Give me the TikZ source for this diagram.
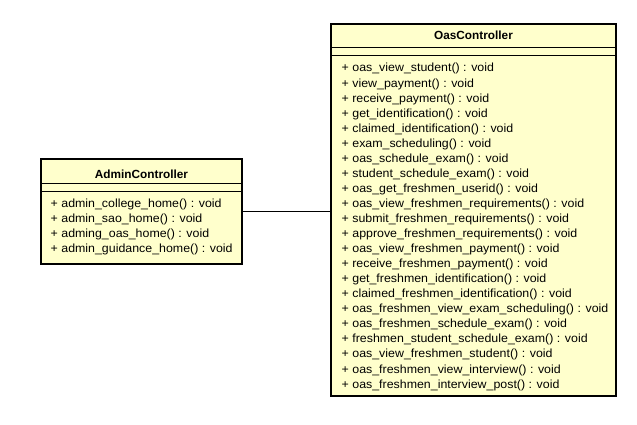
\documentclass[tikz,border=0pt]{standalone}
\usepackage{fontspec}
\setmainfont{Liberation Sans}
\newfontfamily\memberfont[FakeStretch=1.05]{Liberation Sans}
\definecolor{umlfill}{HTML}{FFFFCC}
\tikzset{
  classbox/.style={draw=black, line width=2pt, fill=umlfill, inner sep=0pt, outer sep=0pt, anchor=north west},
  sepline/.style={draw=black, line width=1pt},
  classtitle/.style={font=\fontsize{11.8}{14}\selectfont\bfseries, inner sep=0pt, anchor=base},
  member/.style={font=\memberfont\fontsize{11.8}{14}\selectfont, anchor=base west, inner sep=0pt},
  assoc/.style={draw=black, line width=1pt},
}
\begin{document}
\begin{tikzpicture}[x=1pt,y=-1pt]
\useasboundingbox (0,0) rectangle (637,425);
% AdminController
\node[classbox, minimum width=201pt, minimum height=105pt] (admin) at (41,159) {};
\draw[sepline] (admin.west |- 0,183) -- (admin.east |- 0,183);
\draw[sepline] (admin.west |- 0,191) -- (admin.east |- 0,191);
\node[classtitle] (admintitle) at (141.5,178) {AdminController};
\foreach \t [count=\i from 0] in {%
  + admin\_college\_home() : void,
  + admin\_sao\_home() : void,
  + adming\_oas\_home() : void,
  + admin\_guidance\_home() : void}
  \node[member] (am\i) at (50.5,207+15*\i) {\t};
% OasController
\node[classbox, minimum width=285pt, minimum height=372pt] (oas) at (331,24) {};
\draw[sepline] (oas.west |- 0,47.5) -- (oas.east |- 0,47.5);
\draw[sepline] (oas.west |- 0,55.5) -- (oas.east |- 0,55.5);
\node[classtitle] (oastitle) at (473.5,40) {OasController};
\foreach \t [count=\i from 0] in {%
  + oas\_view\_student() : void,
  + view\_payment() : void,
  + receive\_payment() : void,
  + get\_identification() : void,
  + claimed\_identification() : void,
  + exam\_scheduling() : void,
  + oas\_schedule\_exam() : void,
  + student\_schedule\_exam() : void,
  + oas\_get\_freshmen\_userid() : void,
  + oas\_view\_freshmen\_requirements() : void,
  + submit\_freshmen\_requirements() : void,
  + approve\_freshmen\_requirements() : void,
  + oas\_view\_freshmen\_payment() : void,
  + receive\_freshmen\_payment() : void,
  + get\_freshmen\_identification() : void,
  + claimed\_freshmen\_identification() : void,
  + oas\_freshmen\_view\_exam\_scheduling() : void,
  + oas\_freshmen\_schedule\_exam() : void,
  + freshmen\_student\_schedule\_exam() : void,
  + oas\_view\_freshmen\_student() : void,
  + oas\_freshmen\_view\_interview() : void,
  + oas\_freshmen\_interview\_post() : void}
  \node[member] (om\i) at (341.5,72+15.05*\i) {\t};
% association
\draw[assoc] (admin.east) -- (admin.east -| oas.west);
\end{tikzpicture}
\end{document}
